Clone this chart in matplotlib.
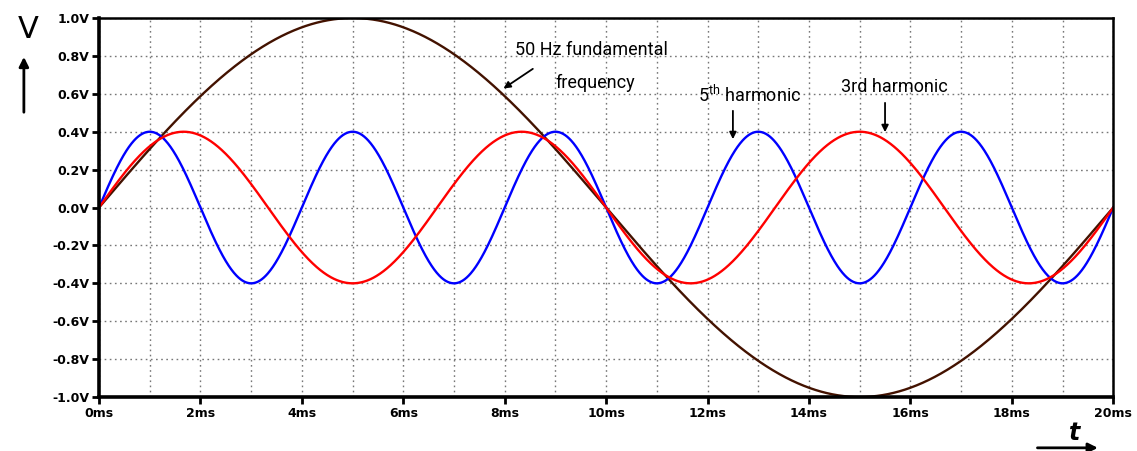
import numpy as np
import matplotlib
matplotlib.use("Agg")
import matplotlib.pyplot as plt
from matplotlib.ticker import MultipleLocator

# Komponenty sygnału: częstotliwość [Hz], amplituda [V], kolor
freqs = [50, 150, 250]
amps = [1.0, 0.4, 0.4]
colors = ['#431200', '#ff0000', '#0000ff']

x_ticks = [0, 2, 4, 6, 8, 10, 12, 14, 16, 18, 20]
x_labels = ['0ms', '2ms', '4ms', '6ms', '8ms', '10ms', '12ms', '14ms', '16ms', '18ms', '20ms']
y_ticks = [-1.0, -0.8, -0.6, -0.4, -0.2, 0.0, 0.2, 0.4, 0.6, 0.8, 1.0]
y_labels = ['-1.0V', '-0.8V', '-0.6V', '-0.4V', '-0.2V', '0.0V', '0.2V', '0.4V', '0.6V', '0.8V', '1.0V']

t_ms = np.linspace(0, 20, 2001)

fig = plt.figure(figsize=(11.37, 4.51), dpi=100)
ax = fig.add_axes([0.0871, 0.1197, 0.8920, 0.8403])

# Kolejność rysowania: fundamentalna, 5., 3.
for i in [0, 2, 1]:
    y = amps[i] * np.sin(2 * np.pi * freqs[i] * t_ms / 1000.0)
    ax.plot(t_ms, y, color=colors[i], lw=1.7)

ax.set_xlim(0, 20)
ax.set_ylim(-1.0, 1.0)
ax.set_xticks(x_ticks)
ax.set_xticklabels(x_labels)
ax.set_yticks(y_ticks)
ax.set_yticklabels(y_labels)
ax.xaxis.set_minor_locator(MultipleLocator(1))

ax.grid(True, which='both', color='#777777', linestyle=(0, (1.2, 2.5)), lw=1.0)
ax.tick_params(axis='both', which='major', direction='out', length=5, width=2,
               labelsize=9, pad=2)
ax.tick_params(axis='both', which='minor', length=0)
for lab in ax.get_xticklabels() + ax.get_yticklabels():
    lab.set_fontweight('bold')
for side in ['left', 'bottom']:
    ax.spines[side].set_linewidth(2.6)
for side in ['top', 'right']:
    ax.spines[side].set_linewidth(1.8)

narrow = ['Roboto', 'DejaVu Sans']
arrow = dict(arrowstyle='-|>', color='black', lw=1.3, mutation_scale=10)

# Opisy i strzałki
ax.annotate('', xy=(7.93, 0.62), xytext=(8.60, 0.74), arrowprops=arrow)
ax.text(9.72, 0.831, '50 Hz fundamental', ha='center', va='center', fontsize=13, family=narrow)
ax.text(9.78, 0.657, 'frequency', ha='center', va='center', fontsize=13, family=narrow)

ax.text(12.84, 0.594, '5$^{\\mathregular{th}}$ harmonic', ha='center', va='center',
        fontsize=13, family=narrow)
ax.annotate('', xy=(12.5, 0.346), xytext=(12.5, 0.525), arrowprops=arrow)

ax.text(15.68, 0.636, '3rd harmonic', ha='center', va='center', fontsize=13, family=narrow)
ax.annotate('', xy=(15.5, 0.383), xytext=(15.5, 0.567), arrowprops=arrow)

# Oznaczenia osi: V ze strzałką w górę, t ze strzałką w prawo
fig.text(0.025, 0.935, 'V', ha='center', va='center', fontsize=22)
fig.patches.append(matplotlib.patches.FancyArrowPatch(
    (0.021, 0.745), (0.021, 0.88), transform=fig.transFigure,
    arrowstyle='-|>', mutation_scale=14, lw=2, color='black'))
fig.text(0.945, 0.04, 't', ha='center', va='center', fontsize=17,
         fontweight='bold', style='italic')
fig.patches.append(matplotlib.patches.FancyArrowPatch(
    (0.91, 0.007), (0.968, 0.007), transform=fig.transFigure,
    arrowstyle='-|>', mutation_scale=14, lw=2, color='black'))

fig.savefig('out.png', dpi=100)
